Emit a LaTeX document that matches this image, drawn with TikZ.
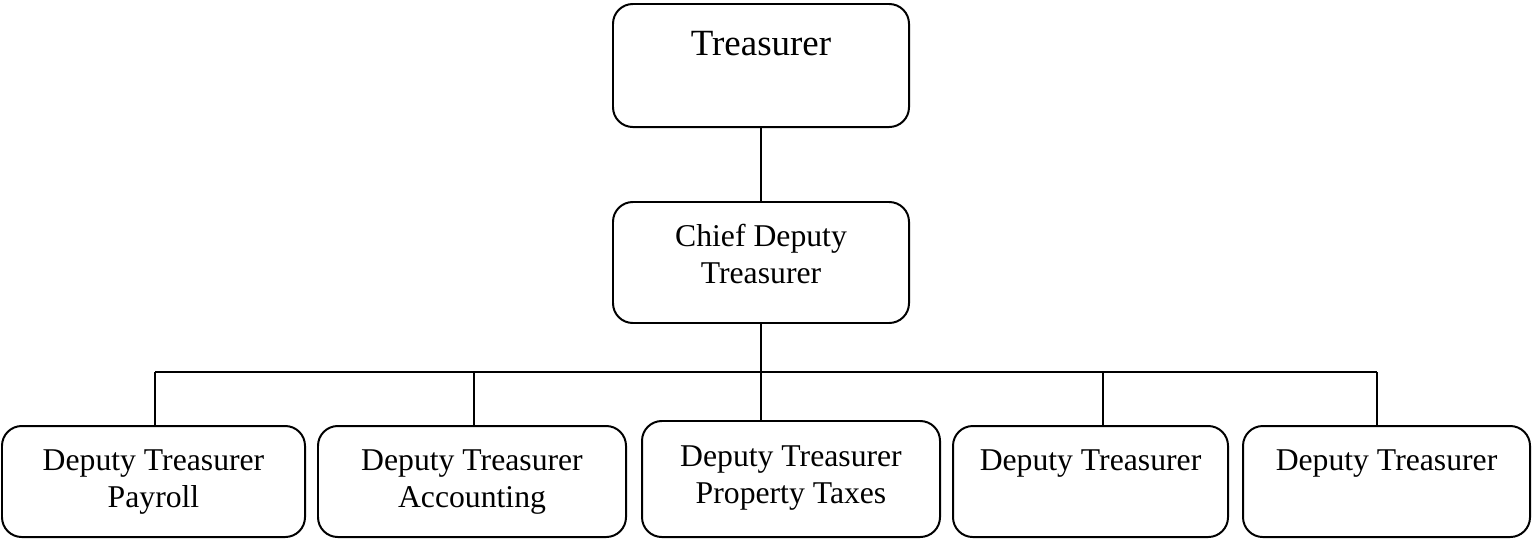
\documentclass[tikz,border=0pt]{standalone}
\usepackage{fontspec}
\setmainfont{Liberation Serif}
\usetikzlibrary{positioning}

\begin{document}
\begin{tikzpicture}[x=0.3786pt, y=-0.3786pt]
	\tikzstyle{Box}		= [draw, line width=0.75pt, rounded corners=7.5pt, inner xsep=0pt, inner ysep=0pt, align=center, anchor=base]
	\tikzstyle{Head}	= [font=\fontsize{14}{16}\selectfont]
	\tikzstyle{Unit}	= [font=\fontsize{12}{13.8}\selectfont]
	\tikzstyle{Low}		= [text height=30.67pt, text depth=11.36pt]
	\tikzstyle{LowOne}	= [text height=16.66pt, text depth=25.37pt]
	\tikzstyle{Link}	= [line width=0.75pt]

	\useasboundingbox (0,0) rectangle (1534,538);

	\node (tr) at (761,55) [Box][Head, minimum width=112.07pt, text height=19.31pt, text depth=27.26pt] {Treasurer};
	\node (cdt) at (761,283) [Box][Unit, minimum width=112.07pt, text height=30.67pt, text depth=15.14pt] {Chief Deputy\\Treasurer};

	\node (d1) at (153.5,507) [Box][Unit, Low, minimum width=114.72pt] {Deputy Treasurer\\Payroll};
	\node (d2) at (472,507) [Box][Unit, Low, minimum width=116.61pt] {Deputy Treasurer\\Accounting};
	\node (d3) at (791,503) [Box][Unit, minimum width=112.82pt, text height=31.05pt, text depth=12.87pt] {Deputy Treasurer\\Property Taxes};
	\node (d4) at (1090.5,470) [Box][Unit, LowOne, minimum width=104.12pt] {Deputy Treasurer};
	\node (d5) at (1386.5,470) [Box][Unit, LowOne, minimum width=108.66pt] {Deputy Treasurer};

	% branch points on the bar
	\coordinate (j1) at (155,372);
	\coordinate (j2) at (474,372);
	\coordinate (j3) at (761,372);
	\coordinate (j4) at (1103,372);
	\coordinate (j5) at (1377,372);

	\draw [-] (tr) to (cdt) [Link];
	\draw [-] (cdt) to (j3) [Link];
	\draw [-] (j1) to (j5) [Link];

	\draw [-] (j1) to (j1 |- d1.north) [Link];
	\draw [-] (j2) to (j2 |- d2.north) [Link];
	\draw [-] (j3) to (j3 |- d3.north) [Link];
	\draw [-] (j4) to (j4 |- d4.north) [Link];
	\draw [-] (j5) to (j5 |- d5.north) [Link];
\end{tikzpicture}
\end{document}
